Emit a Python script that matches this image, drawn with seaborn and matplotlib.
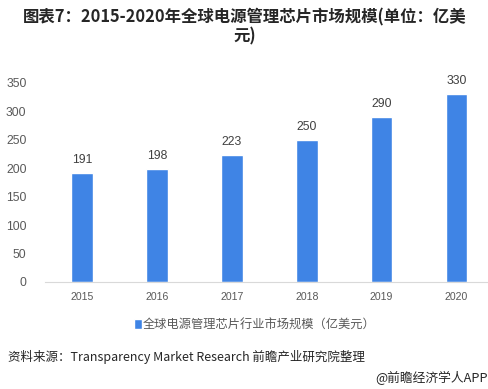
import seaborn as sns
import matplotlib.pyplot as plt
import pandas as pd

years = ["2015", "2016", "2017", "2018", "2019", "2020"]
market_size = [191, 198, 223, 250, 290, 330]
y_ticks = [0, 50, 100, 150, 200, 250, 300, 350]

title = "图表7：2015-2020年全球电源管理芯片市场规模(单位：亿美\n元)"
series_name = "全球电源管理芯片行业市场规模（亿美元）"
source = "资料来源：Transparency Market Research 前瞻产业研究院整理"
brand = "@前瞻经济学人APP"

sns.set_style("white")
plt.rcParams["font.family"] = ["Noto Sans CJK SC", "DejaVu Sans"]

df = pd.DataFrame({"year": years, "value": market_size})

fig = plt.figure(figsize=(4.89, 3.89), dpi=100)
ax = fig.add_axes([44.5 / 489, (389 - 282) / 389, 449.5 / 489, 199.4 / 389])

sns.barplot(data=df, x="year", y="value", color="#3F84E5", saturation=1,
            width=0.29, label=series_name, ax=ax)

# value labels above the bars
for i, v in enumerate(market_size):
    ax.annotate(str(v), (i, v), xytext=(0, 5), textcoords="offset points",
                ha="center", va="bottom", fontsize=8.7, color="#404040",
                family=["Liberation Sans", "DejaVu Sans"], annotation_clip=False)

ax.set_ylim(0, 350)
ax.set_xlim(-0.5, 5.5)
ax.set_yticks(y_ticks)
ax.set_xlabel("")
ax.set_ylabel("")
ax.tick_params(axis="both", length=0, colors="#595959", labelsize=8.7)
ax.tick_params(axis="x", pad=7, labelsize=7.6)
ax.tick_params(axis="y", pad=13)
for lbl in ax.get_xticklabels() + ax.get_yticklabels():
    lbl.set_family(["Liberation Sans", "DejaVu Sans"])
sns.despine(ax=ax, left=True)
ax.spines["bottom"].set_color("#d9d9d9")
if ax.legend_:
    ax.legend_.remove()

fig.text(0.5, 1 - 27 / 389, title, ha="center", va="center", fontsize=11.8,
         fontweight="bold", color="#262626", linespacing=1.1)

h, l = ax.get_legend_handles_labels()
fig.legend(h, l, loc="center", bbox_to_anchor=(255 / 489, 1 - 325 / 389),
           frameon=False, fontsize=8.8, handlelength=0.6, handleheight=0.9,
           handletextpad=0.1, labelcolor="#595959")

fig.text(8 / 489, 1 - 357 / 389, source, ha="left", va="center", fontsize=9,
         color="#262626")
fig.text(488 / 489, 1 - 378 / 389, brand, ha="right", va="center", fontsize=9.2,
         color="#262626")

fig.savefig("out.png", dpi=100)
